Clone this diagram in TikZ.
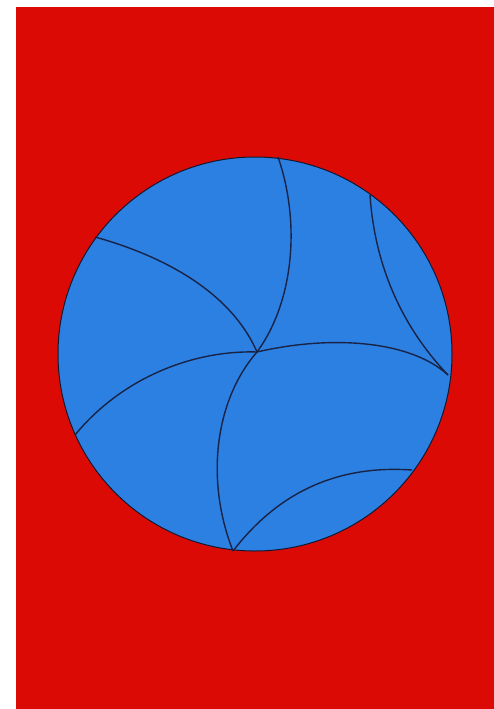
\documentclass[tikz,border=0pt]{standalone}
\definecolor{bgred}{RGB}{220,10,5}
\definecolor{ballblue}{RGB}{44,128,226}
\definecolor{seam}{RGB}{25,35,70}
\begin{document}
\begin{tikzpicture}[x=1pt,y=-1pt,seamline/.style={draw=seam,line width=1.4pt}]
\useasboundingbox (0,0) rectangle (494,709);
\fill[white] (0,0) rectangle (494,709);
\fill[bgred] (16,7) rectangle (494,709);
\node[circle,draw=seam!70!black,line width=1pt,fill=ballblue,minimum size=394pt,inner sep=0pt] (ball) at (255,354) {};
\coordinate (c) at (257,352);
\coordinate (a1) at (95,237);
\coordinate (a2) at (278,157);
\coordinate (a3) at (75,435);
\coordinate (a4) at (448,375);
\coordinate (a5) at (370,195);
\coordinate (a6) at (233,551);
\coordinate (a7) at (412,470);
\draw[seamline] (a1) .. controls (160,255) and (230,290) .. (c);
\draw[seamline] (a2) .. controls (300,220) and (295,300) .. (c);
\draw[seamline] (a3) .. controls (120,380) and (190,350) .. (c) .. controls (330,335) and (410,340) .. (a4);
\draw[seamline] (a5) .. controls (375,270) and (405,330) .. (a4);
\draw[seamline] (c) .. controls (215,400) and (205,480) .. (a6);
\draw[seamline] (a6) .. controls (280,490) and (340,465) .. (a7);
\end{tikzpicture}
\end{document}
